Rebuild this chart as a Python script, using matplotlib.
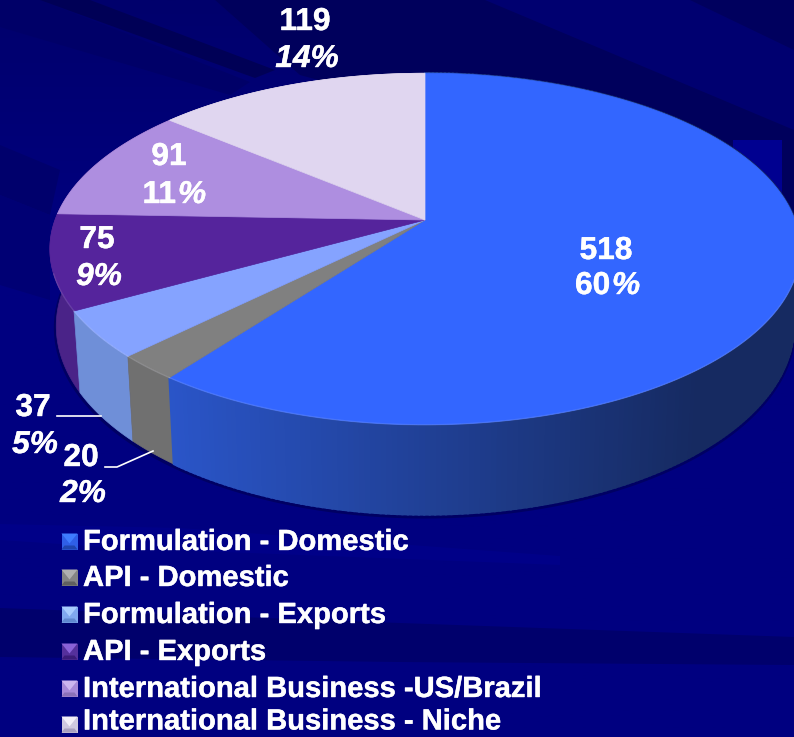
import numpy as np
import matplotlib
matplotlib.use("Agg")
import matplotlib.pyplot as plt
from matplotlib.colors import to_rgb, to_rgba
from matplotlib.patches import Polygon, Rectangle
import matplotlib.patheffects as pe

plt.rcParams['font.family'] = ['Liberation Sans', 'DejaVu Sans']

categories = ["Formulation - Domestic", "API - Domestic", "Formulation - Exports",
              "API - Exports", "International Business -US/Brazil", "International Business - Niche"]
values = [518, 20, 37, 75, 91, 119]
percents = ["60", "2", "5", "9", "11", "14"]
top_colors = ["#3366ff", "#808080", "#85a3ff", "#55249c", "#ae8ee0", "#e0d6f0"]
side_colors = ["#2a55c8", "#707070", "#6f8fd8", "#4a2388", "#4a2388", "#b8b0c8"]

W, H = 794, 737
fig = plt.figure(figsize=(W / 100, H / 100), dpi=100)
ax = fig.add_axes([0, 0, 1, 1])

# background
grad = np.linspace(0, 1, 256)[:, None, None]
c0, c1 = np.array([0, 0, 108]) / 255, np.array([0, 0, 128]) / 255
img = c0[None, None, :] + (c1 - c0)[None, None, :] * np.clip(grad * 3, 0, 1)
ax.imshow(img, extent=[0, W, H, 0], aspect='auto', zorder=0)

def streak(pts, color, z=0.5):
    ax.add_patch(Polygon(pts, closed=True, fc=color, ec='none', zorder=z))

streak([(215, 0), (794, 0), (794, 215), (430, 110), (300, 75)], "#000070")
streak([(215, 0), (485, 0), (794, 130), (794, 240), (430, 110), (300, 75)], "#00005c")
streak([(690, 0), (794, 0), (794, 50)], "#00005e")
streak([(0, 0), (40, 0), (250, 82), (230, 95), (0, 27)], "#000068")
streak([(40, 0), (90, 0), (275, 70), (255, 78)], "#000056")
streak([(733, 140), (782, 140), (782, 260), (733, 260)], "#000090")
streak([(0, 145), (60, 170), (50, 215), (0, 195)], "#00006c")
streak([(0, 195), (50, 215), (50, 300), (0, 285)], "#000074")
streak([(0, 524), (180, 528), (560, 556), (560, 565), (120, 548), (0, 540)], "#000088")
streak([(0, 608), (400, 623), (794, 637), (794, 665), (400, 662), (0, 657)], "#00006c")

# geometry of the projected disc
cx, cy = 425.0, 220.0
a, b, k = 370.0, 171.0, 0.165
depth, shrink = 75.0, 0.983

def top_xy(theta):
    x, y = np.sin(theta), -np.cos(theta)
    w = 1 - k * y
    return cx + a * x / w, cy + b * y / w

def bot_xy(theta):
    x, y = np.sin(theta), -np.cos(theta)
    w = 1 - k * y
    return cx + shrink * a * x / w, cy + b * y / w + depth / w

edges = np.cumsum([0] + values) / sum(values) * 2 * np.pi

# soft shadow below the disc
tt = np.linspace(np.pi / 2, 3 * np.pi / 2, 300)
sx, sy = bot_xy(tt)
ax.plot(sx, sy + 1.5, color='#000040', alpha=0.45, lw=3.5, zorder=1.5)

# sides, clockwise from 12 o'clock
for i in range(len(values)):
    t = np.linspace(edges[i], edges[i + 1], max(int((edges[i + 1] - edges[i]) * 80), 4))
    tx, ty = top_xy(t)
    bx, by = bot_xy(t)
    base = np.array(to_rgb(side_colors[i]))
    if i == 0:
        for j in range(len(t) - 1):
            f = np.clip((tx[j] - 170) / 530, 0, 1)
            col = base * (1 - f) + np.array([0.085, 0.165, 0.38]) * f
            ax.add_patch(Polygon([(tx[j], ty[j]), (tx[j + 1], ty[j + 1]), (bx[j + 1], by[j + 1]), (bx[j], by[j])],
                                 closed=True, fc=col, ec=col, lw=1.5, zorder=2))
    else:
        pts = np.column_stack([np.r_[tx, bx[::-1]], np.r_[ty, by[::-1]]])
        ax.add_patch(Polygon(pts, closed=True, fc=base, ec=base, lw=0.5, zorder=2 - i * 0.01))

# top faces
for i in range(len(values)):
    t = np.linspace(edges[i], edges[i + 1], 200)
    tx, ty = top_xy(t)
    pts = np.column_stack([np.r_[cx, tx], np.r_[cy, ty]])
    ax.add_patch(Polygon(pts, closed=True, fc=top_colors[i], ec=top_colors[i], lw=0.5, zorder=3))
    front = -np.cos(t) > 0.3
    if front.any():
        ax.plot(tx[front], ty[front], color=to_rgba('white', 0.12), lw=1.0, zorder=3.1)

# value labels
fs = 22.8
bold = [pe.withStroke(linewidth=0.3, foreground='white')]
label_xy = [(606, 251, 0, 286), (81, 458, 83, 494), (33, 408, 35, 445),
            (97, 240, 99, 277), (169, 157, 0, 195), (305, 22, 307, 59)]
splits = {0: 611, 4: 177}
tk = dict(color='white', fontweight='bold', fontsize=fs, va='center', zorder=6, path_effects=bold)
for i, (v, p) in enumerate(zip(values, percents)):
    x1, y1, x2, y2 = label_xy[i]
    ax.text(x1, y1, str(v), ha='center', **tk)
    if i in splits:
        ax.text(splits[i] - 1, y2, p, ha='right', **tk)
        ax.text(splits[i] + 1, y2, "%", fontstyle='italic', ha='left', **tk)
    else:
        ax.text(x2, y2, p + "%", fontstyle='italic', ha='center', **tk)

# leader lines
ax.plot([57, 101], [416, 416], color='white', lw=1.2, zorder=5)
ax.plot([105, 117, 153], [467, 467, 451], color='white', lw=1.2, zorder=5)

# legend
ly = [541.5, 577.5, 614.5, 651.5, 688.5, 724.5]
text_y = [542, 578, 615, 652, 689, 721.5]
mark_top = ["#3f7cff", "#b0b0b0", "#a8ccff", "#8a62d8", "#cdb6f0", "#f2eef8"]
mark_mid = ["#2f5fe8", "#858585", "#80a8f0", "#55309c", "#a88ad8", "#cfc8e0"]
mark_dark = ["#1f45b0", "#606060", "#6088d0", "#3a1c78", "#8a70b8", "#a8a0c0"]
s = 8
for i, name in enumerate(categories):
    c, y = 69.5, ly[i]
    ax.add_patch(Rectangle((c - s, y - s), 2 * s, 2 * s, fc=mark_mid[i], ec='none', zorder=4))
    ax.add_patch(Polygon([(c - s, y - s), (c + s, y - s), (c, y + 2)], fc=mark_top[i], ec='none', zorder=4.1))
    ax.add_patch(Polygon([(c - s, y + s), (c + s, y + s), (c + s - 3, y + s - 4), (c - s + 3, y + s - 4)],
                         fc=mark_dark[i], ec='none', zorder=4.1))
    ax.text(83, text_y[i], name, color='white', fontweight='bold', fontsize=21, ha='left', va='center',
            zorder=6, path_effects=bold)

ax.set_xlim(0, W)
ax.set_ylim(H, 0)
ax.axis('off')
fig.savefig("out.png", dpi=100)
